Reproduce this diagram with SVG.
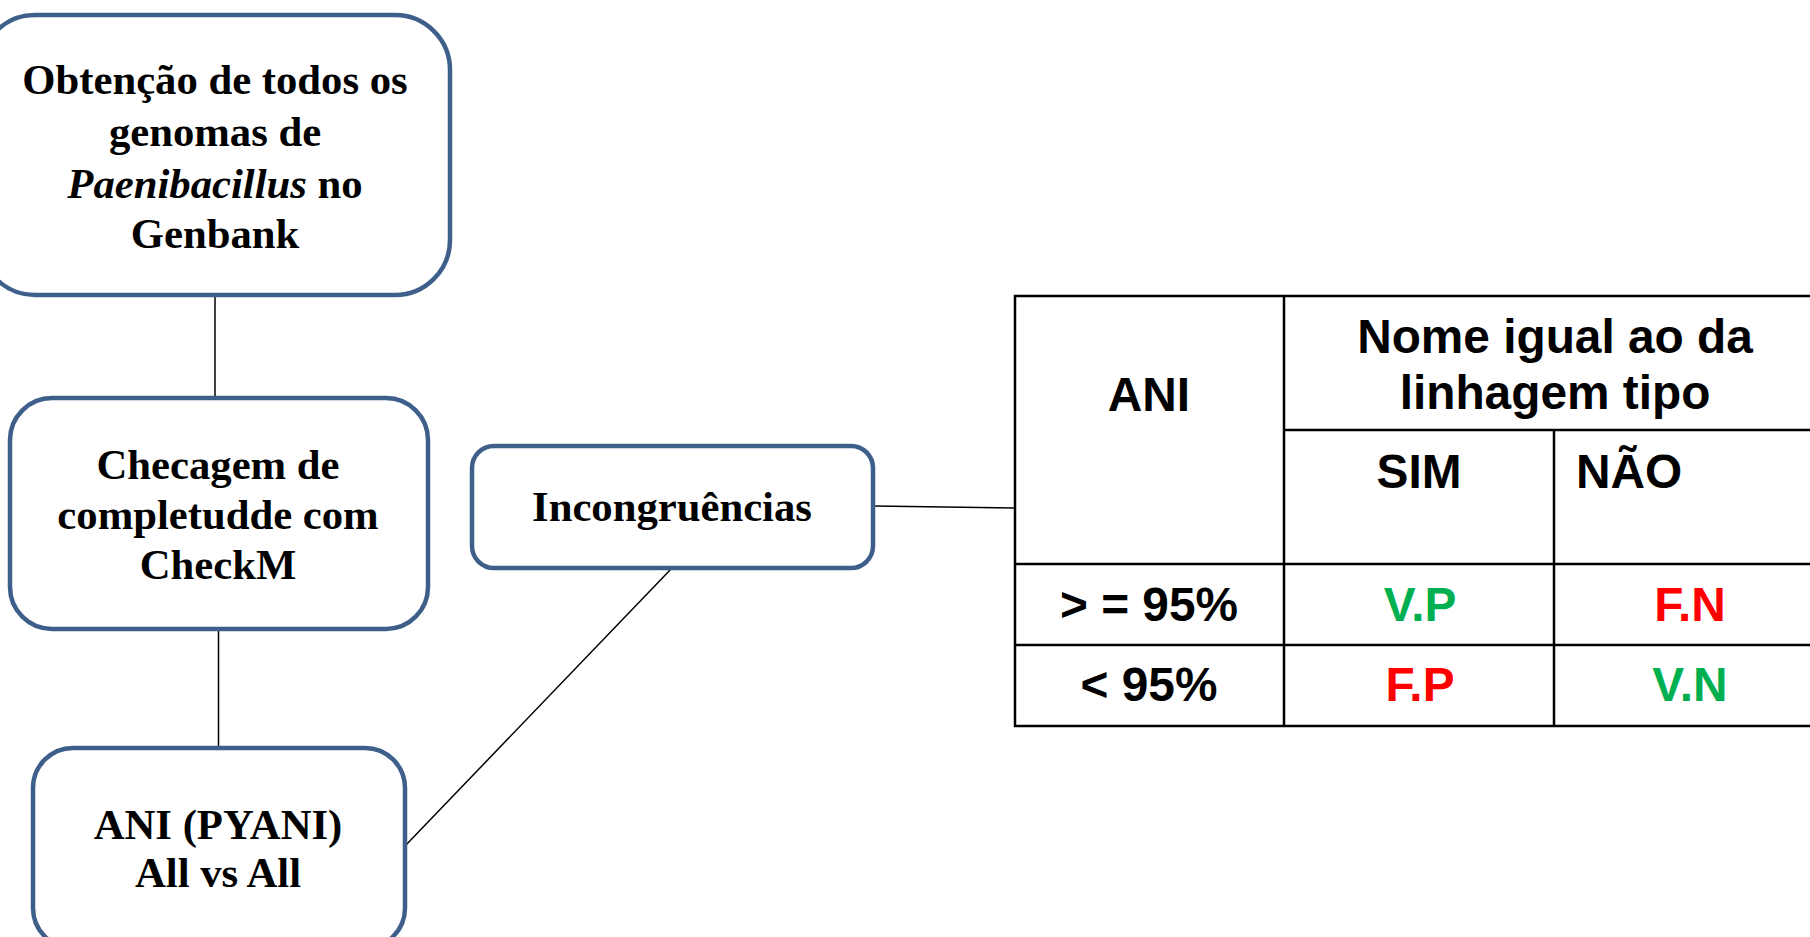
<svg xmlns="http://www.w3.org/2000/svg" width="1810" height="937" viewBox="0 0 1810 937">
<style>
.box{fill:#fff;stroke:#3E5F8A;stroke-width:4.5}
.t{font-family:"Liberation Serif","Times New Roman",serif;font-weight:bold;font-size:42.7px;fill:#000;text-anchor:middle}
.c{stroke:#000;stroke-width:1.5;fill:none}
.grid{stroke:#000;stroke-width:2.5;fill:none}
.h{font-family:"Liberation Sans",Arial,sans-serif;font-weight:bold;font-size:47.8px;fill:#000;text-anchor:middle}
.g{fill:#00B050}
.r{fill:#FF0000}
</style>
<rect width="1810" height="937" fill="#fff"/>
<g id="connectors">
<line class="c" x1="215" y1="295" x2="215" y2="398"/>
<line class="c" x1="218.5" y1="629" x2="218.5" y2="748"/>
<line class="c" x1="405" y1="846" x2="672" y2="568"/>
<line class="c" x1="874" y1="506" x2="1015" y2="508"/>
</g>
<g id="node-obtencao">
<rect class="box" x="-20" y="15" width="470" height="280" rx="55" ry="55"/>
<text class="t" x="215" y="94">Obtenção de todos os</text>
<text class="t" x="215" y="146">genomas de</text>
<text class="t" x="215" y="198"><tspan font-style="italic">Paenibacillus</tspan> no</text>
<text class="t" x="215" y="248">Genbank</text>
</g>
<g id="node-checagem">
<rect class="box" x="10" y="398" width="418" height="231" rx="42" ry="42"/>
<text class="t" x="218" y="479">Checagem de</text>
<text class="t" x="218" y="529">completudde com</text>
<text class="t" x="218" y="579">CheckM</text>
</g>
<g id="node-ani">
<rect class="box" x="33" y="748" width="372" height="200" rx="40" ry="40"/>
<text class="t" x="218" y="839">ANI (PYANI)</text>
<text class="t" x="218" y="887">All vs All</text>
</g>
<g id="node-incongruencias">
<rect class="box" x="472" y="446" width="401" height="122" rx="22" ry="22"/>
<text class="t" x="672" y="521">Incongruências</text>
</g>
<g id="table">
<rect class="grid" x="1015" y="296" width="811" height="430"/>
<line class="grid" x1="1284" y1="296" x2="1284" y2="726"/>
<line class="grid" x1="1554" y1="430" x2="1554" y2="726"/>
<line class="grid" x1="1284" y1="430" x2="1826" y2="430"/>
<line class="grid" x1="1015" y1="564" x2="1826" y2="564"/>
<line class="grid" x1="1015" y1="645" x2="1826" y2="645"/>
<text class="h" x="1149" y="411">ANI</text>
<text class="h" x="1555" y="353">Nome igual ao da</text>
<text class="h" x="1555" y="409">linhagem tipo</text>
<text class="h" x="1419" y="488">SIM</text>
<text class="h" x="1576" y="488" style="text-anchor:start">NÃO</text>
<text class="h" x="1149" y="621">&gt; = 95%</text>
<text class="h g" x="1420" y="621">V.P</text>
<text class="h r" x="1690" y="621">F.N</text>
<text class="h" x="1149" y="701">&lt; 95%</text>
<text class="h r" x="1420" y="701">F.P</text>
<text class="h g" x="1690" y="701">V.N</text>
</g>
</svg>
